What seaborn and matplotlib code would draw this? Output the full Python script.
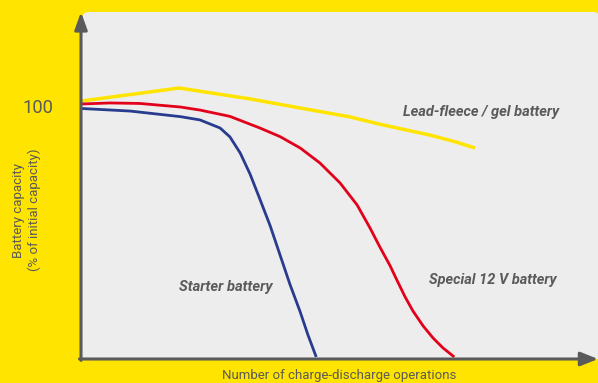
import matplotlib
matplotlib.use("Agg")
import matplotlib.pyplot as plt
from matplotlib import font_manager as fm
from matplotlib.patches import FancyBboxPatch, Rectangle
from matplotlib.transforms import IdentityTransform
import pandas as pd
import seaborn as sns

sns.set_style("white")
plt.rcParams["font.family"] = ["Roboto", "DejaVu Sans"]

# Battery capacity (% of initial) vs. number of charge-discharge operations (relative scale 0-100)
gel_x = [0.2, 19.0, 32.7, 42.4, 52.0, 57.8, 67.5, 72.3, 76.2]
gel_y = [102.0, 107.1, 102.8, 99.2, 95.7, 92.8, 88.5, 85.9, 83.4]

special_x = [0.2, 5.6, 11.4, 19.2, 23.0, 28.8, 34.6, 38.5, 42.4, 46.2, 50.1,
             53.4, 55.9, 57.8, 59.8, 61.1, 62.7, 64.2, 66.2, 68.1, 70.0, 72.2]
special_y = [100.8, 101.2, 101.0, 99.6, 98.4, 95.9, 91.3, 87.9, 83.4, 77.5, 69.6,
             60.9, 51.8, 44.3, 36.8, 31.2, 24.5, 19.0, 13.0, 8.3, 4.4, 0.8]

starter_x = [0.2, 9.5, 19.2, 23.0, 26.9, 28.8, 29.8, 30.8, 32.7, 34.6, 36.6,
             38.5, 40.4, 42.4, 43.9, 45.5]
starter_y = [99.0, 98.0, 95.8, 94.5, 91.3, 87.8, 84.6, 81.4, 73.1, 63.2, 52.6,
             41.1, 29.6, 18.6, 9.5, 0.8]

series_names = ["Lead-fleece / gel battery", "Special 12 V battery", "Starter battery"]
y_label = "Battery capacity\n(% of initial capacity)"
x_label = "Number of charge-discharge operations"
y_tick_values = [100]
y_tick_labels = ["100"]

YELLOW = "#FFE400"
RED = "#E2001A"
BLUE = "#283B8E"
PANEL = "#EDEDED"
INK = "#5A5A5A"

REG = fm.FontProperties(family=["Roboto", "DejaVu Sans"])
BI = fm.FontProperties(family=["Roboto", "DejaVu Sans"], weight="bold", style="italic")

W, H = 598, 383
fig = plt.figure(figsize=(W / 100, H / 100), dpi=100)
fig.patch.set_facecolor(YELLOW)

# light grey plotting panel with rounded top corners (pixel coordinates)
px = IdentityTransform()
fig.add_artist(FancyBboxPatch((82, 24), 518, 347,
                              boxstyle="round,pad=0,rounding_size=7",
                              fc=PANEL, ec="none", transform=px, zorder=-2))
fig.add_artist(Rectangle((82, 24), 518, 120, fc=PANEL, ec="none",
                         transform=px, zorder=-2))

ax = fig.add_axes([81 / W, 24 / H, 517 / W, 347 / H])
ax.patch.set_alpha(0)
ax.set_xlim(0, 100)
ax.set_ylim(0, 137.15)

df = pd.concat([
    pd.DataFrame({"ops": gel_x, "cap": gel_y, "type": series_names[0]}),
    pd.DataFrame({"ops": special_x, "cap": special_y, "type": series_names[1]}),
    pd.DataFrame({"ops": starter_x, "cap": starter_y, "type": series_names[2]}),
])
styles = {series_names[0]: (YELLOW, 2.5),
          series_names[1]: (RED, 2.0),
          series_names[2]: (BLUE, 2.0)}
for name, sub in df.groupby("type", sort=False):
    col, lw = styles[name]
    sns.lineplot(data=sub, x="ops", y="cap", color=col, linewidth=lw,
                 sort=False, ax=ax, solid_joinstyle="round",
                 solid_capstyle="butt")

for s in ax.spines.values():
    s.set_visible(False)
ax.set_xticks([])
ax.set_yticks(y_tick_values)
ax.set_yticklabels(y_tick_labels, fontproperties=REG)
ax.tick_params(axis="y", length=13.7, width=1.8, color=INK, pad=6.5,
               labelcolor=INK)
ax.set_xlabel("")
ax.set_ylabel("")

# axis arrows
ax.annotate("", xy=(0, 1), xytext=(0, -0.004), xycoords="axes fraction",
            annotation_clip=False,
            arrowprops=dict(arrowstyle="-|>,head_length=1.05,head_width=0.38",
                            mutation_scale=10, lw=2.2, color=INK,
                            shrinkA=0, shrinkB=0))
ax.annotate("", xy=(1, 0), xytext=(-0.003, 0), xycoords="axes fraction",
            annotation_clip=False,
            arrowprops=dict(arrowstyle="-|>,head_length=1.05,head_width=0.42",
                            mutation_scale=10, lw=2.2, color=INK,
                            shrinkA=0, shrinkB=0))

label_kw = dict(color=INK, fontproperties=BI, ha="left", va="center")
t_gel = ax.text(62.3, 97.6, series_names[0], **label_kw)
t_spec = ax.text(67.3, 31.2, series_names[1], **label_kw)
t_start = ax.text(19.0, 28.5, series_names[2], **label_kw)

t_y = fig.text(26.5 / W, 1 - 210 / H, y_label, rotation=90, ha="center",
               va="center", multialignment="center", linespacing=1.25,
               fontproperties=REG, color=INK)
t_x = fig.text(339.5 / W, 1 - 375 / H, x_label, ha="center", va="center",
               fontproperties=REG, color=INK)
t_tick = ax.get_yticklabels()[0]

# size every text so it spans its intended pixel length
targets = [(t_gel, 156, "w"), (t_spec, 127, "w"), (t_start, 93, "w"),
           (t_x, 234, "w"), (t_y, 122, "h"), (t_tick, 31, "w")]
for t, _, _ in targets:
    t.set_fontsize(11)
fig.canvas.draw()
r = fig.canvas.get_renderer()
for t, target, dim in targets:
    bb = t.get_window_extent(r)
    span = bb.width if dim == "w" else bb.height
    t.set_fontsize(11 * target / span)

fig.savefig("out.png", dpi=100, facecolor=YELLOW)
